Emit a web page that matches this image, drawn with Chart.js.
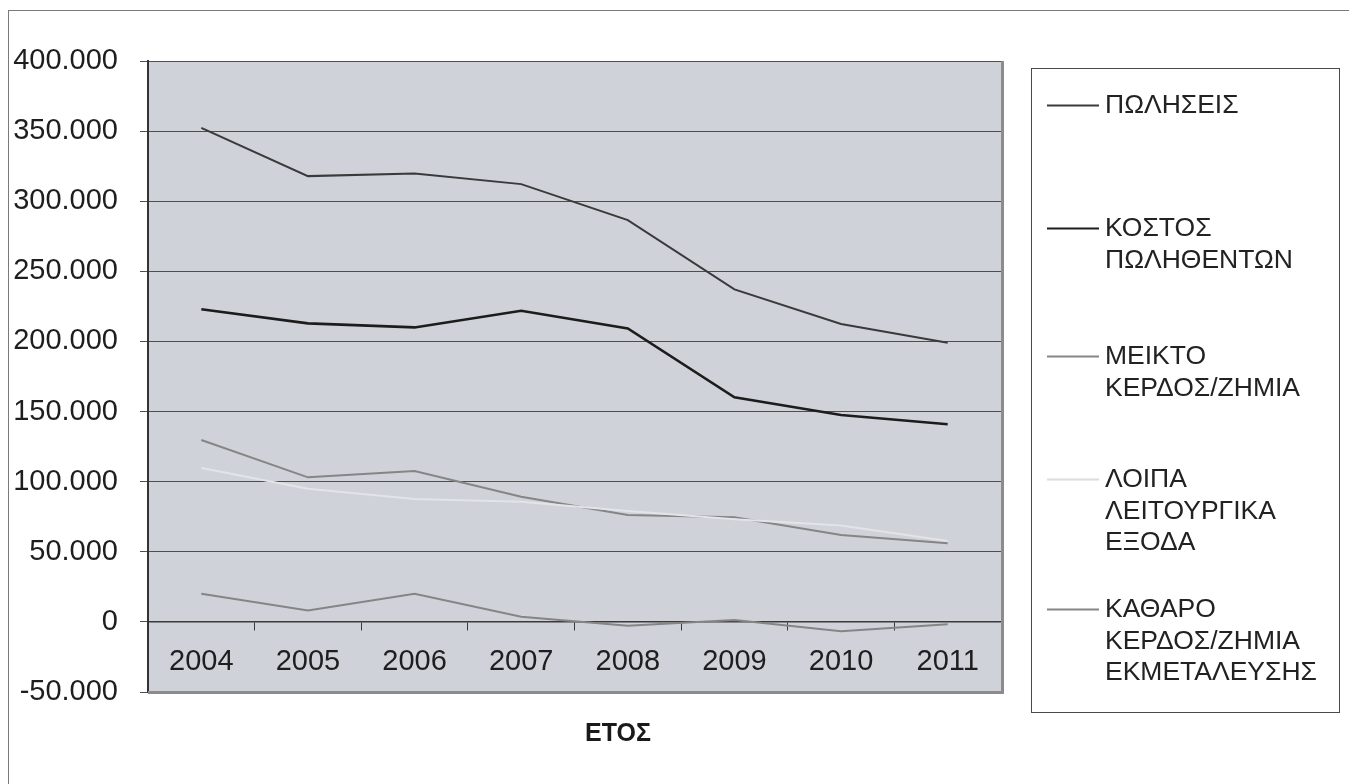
<!DOCTYPE html>
<html lang="el">
<head>
<meta charset="utf-8">
<title>ΕΤΟΣ</title>
<script src="https://cdn.jsdelivr.net/npm/chart.js@4.4.1/dist/chart.umd.min.js"></script>
<style>
  html, body { margin: 0; padding: 0; background: #ffffff; }
  #wrap { position: relative; width: 1349px; height: 784px; }
</style>
</head>
<body>
<div id="wrap"><canvas id="c" width="1349" height="784"></canvas></div>
<script>
// Years on the category axis
const years = ['2004', '2005', '2006', '2007', '2008', '2009', '2010', '2011'];

// Series values (euro)
const sales          = [352300, 317900, 319800, 312200, 286500, 237100, 212400, 199100];
const costOfSales    = [222900, 212900, 210000, 221900, 209300, 160200, 147500, 140900];
const grossProfit    = [129700, 103100, 107600, 89300, 76300, 74600, 62000, 56100];
const otherExpenses  = [109700, 94900, 87600, 85600, 79100, 73200, 68700, 57700];
const operatingResult = [20000, 8200, 20000, 3700, -2800, 1400, -6700, -1600];

// Legend captions, one entry per series, split into lines
const seriesNames = [
  ['ΠΩΛΗΣΕΙΣ'],
  ['ΚΟΣΤΟΣ', 'ΠΩΛΗΘΕΝΤΩΝ'],
  ['ΜΕΙΚΤΟ', 'ΚΕΡΔΟΣ/ΖΗΜΙΑ'],
  ['ΛΟΙΠΑ', 'ΛΕΙΤΟΥΡΓΙΚΑ', 'ΕΞΟΔΑ'],
  ['ΚΑΘΑΡΟ', 'ΚΕΡΔΟΣ/ΖΗΜΙΑ', 'ΕΚΜΕΤΑΛΕΥΣΗΣ']
];
const seriesColors = ['#3a3a3a', '#1c1c1c', '#858585', '#e2e4e8', '#858585'];
const seriesWidths = [2, 2.6, 2, 2, 2];

// Value axis range
const yMin = -50000, yMax = 400000, yStep = 50000;
const xTitle = 'ΕΤΟΣ';

const FONT = '"Liberation Sans", Arial, sans-serif';

function fmtThousands(v) {
  const neg = v < 0;
  const s = String(Math.abs(Math.round(v))).replace(/\B(?=(\d{3})+(?!\d))/g, '.');
  return (neg ? '-' : '') + s;
}

const seriesData = [sales, costOfSales, grossProfit, otherExpenses, operatingResult];

const datasets = seriesData.map((vals, i) => ({
  label: seriesNames[i].join(' '),
  data: vals,
  borderColor: seriesColors[i],
  backgroundColor: seriesColors[i],
  borderWidth: seriesWidths[i],
  pointRadius: 0,
  tension: 0,
  fill: false,
  order: seriesData.length - 1 - i
}));

// Plot background, plot frame, outer frame, legend and axis title
const decorations = {
  id: 'decorations',
  beforeDraw(chart) {
    const { ctx, chartArea: a } = chart;
    ctx.save();
    ctx.fillStyle = '#ffffff';
    ctx.fillRect(0, 0, chart.width, chart.height);
    ctx.fillStyle = '#cfd2d9';
    ctx.fillRect(a.left, a.top, a.right - a.left, a.bottom - a.top);
    // outer frame of the whole chart
    ctx.strokeStyle = '#7a7a7a';
    ctx.lineWidth = 1;
    ctx.strokeRect(8.5, 10.5, chart.width + 20, chart.height + 20);
    ctx.restore();
  },
  afterDraw(chart) {
    const { ctx, chartArea: a } = chart;
    ctx.save();
    // plot frame on the right and bottom
    ctx.strokeStyle = '#8c8c8c';
    ctx.lineWidth = 3;
    ctx.beginPath();
    ctx.moveTo(a.left, a.bottom + 0.5);
    ctx.lineTo(a.right + 1.5, a.bottom + 0.5);
    ctx.lineTo(a.right + 1.5, a.top);
    ctx.stroke();

    // legend box
    ctx.strokeStyle = '#4a4a4a';
    ctx.lineWidth = 1;
    ctx.strokeRect(1031.5, 68.5, 308, 644);

    const firstLineY = [105, 228, 356, 479, 609];
    const lineGap = 31.5;
    ctx.font = '26.5px ' + FONT;
    ctx.fillStyle = '#222222';
    ctx.textBaseline = 'middle';
    ctx.textAlign = 'left';
    chart.data.datasets.forEach((ds, i) => {
      const y = firstLineY[i];
      ctx.strokeStyle = i === 3 ? '#dcdcdc' : ds.borderColor;
      ctx.lineWidth = 2;
      ctx.beginPath();
      ctx.moveTo(1047, y + 0.5);
      ctx.lineTo(1099, y + 0.5);
      ctx.stroke();
      seriesNames[i].forEach((line, k) => {
        ctx.fillText(line, 1105, y + k * lineGap + 1);
      });
    });

    // axis title
    ctx.font = 'bold 25px ' + FONT;
    ctx.textAlign = 'center';
    ctx.fillStyle = '#1a1a1a';
    ctx.fillText(xTitle, 618, 734);
    ctx.restore();
  }
};

new Chart(document.getElementById('c'), {
  type: 'line',
  data: { labels: years, datasets },
  plugins: [decorations],
  options: {
    responsive: false,
    animation: false,
    events: [],
    layout: { padding: { left: 10, right: 348, top: 61, bottom: 92 } },
    plugins: { legend: { display: false }, tooltip: { enabled: false }, title: { display: false } },
    scales: {
      x: {
        type: 'category',
        position: { y: 0 },
        offset: true,
        afterFit(scale) { scale.height = 0; },
        grid: {
          display: true,
          drawOnChartArea: false,
          drawTicks: true,
          offset: true,
          tickLength: 8,
          color: '#3a3a3a',
          lineWidth: 1
        },
        border: { display: true, color: '#3a3a3a', width: 1.5 },
        ticks: {
          color: '#1e1e1e',
          font: { family: FONT, size: 29 },
          padding: 15,
          maxRotation: 0,
          autoSkip: false
        }
      },
      y: {
        min: yMin,
        max: yMax,
        afterFit(scale) { scale.width = 138; },
        afterBuildTicks(scale) {
          const t = [];
          for (let v = yMin; v <= yMax; v += yStep) t.push({ value: v });
          scale.ticks = t;
        },
        grid: {
          color: '#4e4e4e',
          lineWidth: 1,
          drawTicks: true,
          tickLength: 8
        },
        border: { display: true, color: '#333333', width: 2 },
        ticks: {
          color: '#1e1e1e',
          font: { family: FONT, size: 29 },
          padding: 22,
          callback: (v) => fmtThousands(v)
        }
      }
    }
  }
});
</script>
</body>
</html>
